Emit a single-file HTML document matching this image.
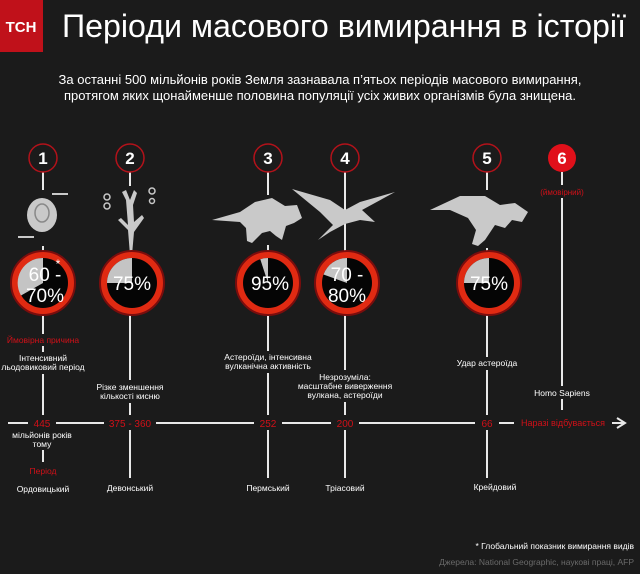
<!DOCTYPE html>
<html><head><meta charset="utf-8"><style>
html,body{margin:0;padding:0;background:#1b1b1b;}
svg{display:block;font-family:"Liberation Sans",sans-serif;}
</style></head><body>
<svg width="640" height="574" viewBox="0 0 640 574" xmlns="http://www.w3.org/2000/svg">
<rect width="640" height="574" fill="#1b1b1b"/>
<rect x="0" y="0" width="43" height="52" fill="#c0111a"/>
<text x="21" y="32" font-size="15" font-weight="bold" fill="#fff" text-anchor="middle">ТСН</text>
<text x="62" y="37" font-size="32" fill="#fff" textLength="564" lengthAdjust="spacingAndGlyphs">Періоди масового вимирання в історії</text>
<text x="320" y="84" font-size="13" fill="#fff" text-anchor="middle">За останні 500 мільйонів років Земля зазнавала п’ятьох періодів масового вимирання,</text>
<text x="320" y="100" font-size="13" fill="#fff" text-anchor="middle">протягом яких щонайменше половина популяції усіх живих організмів була знищена.</text>

<g stroke="#e8e8e8" stroke-width="2">
<line x1="43" y1="172" x2="43" y2="462"/>
<line x1="130" y1="172" x2="130" y2="478"/>
<line x1="268" y1="172" x2="268" y2="478"/>
<line x1="345" y1="172" x2="345" y2="478"/>
<line x1="487" y1="172" x2="487" y2="478"/>
<line x1="562" y1="172" x2="562" y2="410"/>
<line x1="8" y1="423" x2="625" y2="423"/>
<polyline points="617,418 625,423 617,428" fill="none"/>
</g>

<!-- background masks -->
<g fill="#1b1b1b">
<rect x="3" y="334" width="80" height="12"/>
<rect x="0" y="352" width="88" height="22"/>
<rect x="28" y="415" width="28" height="15"/>
<rect x="5" y="430" width="76" height="20"/>
<rect x="20" y="465" width="46" height="30"/>
<rect x="92" y="380" width="76" height="23"/>
<rect x="104" y="415" width="52" height="15"/>
<rect x="100" y="482" width="60" height="14"/>
<rect x="220" y="351" width="96" height="22"/>
<rect x="254" y="415" width="28" height="15"/>
<rect x="290" y="370" width="110" height="32"/>
<rect x="331" y="415" width="28" height="15"/>
<rect x="450" y="357" width="74" height="13"/>
<rect x="475" y="415" width="24" height="15"/>
<rect x="532" y="185" width="60" height="13"/>
<rect x="528" y="386" width="68" height="13"/>
<rect x="514" y="415" width="98" height="15"/>
</g>

<g font-size="17" font-weight="bold" text-anchor="middle">
<circle cx="43" cy="158" r="14" fill="#1b1b1b" stroke="#b3121a" stroke-width="1.5"/><text x="43" y="164" fill="#fff">1</text>
<circle cx="130" cy="158" r="14" fill="#1b1b1b" stroke="#b3121a" stroke-width="1.5"/><text x="130" y="164" fill="#fff">2</text>
<circle cx="268" cy="158" r="14" fill="#1b1b1b" stroke="#b3121a" stroke-width="1.5"/><text x="268" y="164" fill="#fff">3</text>
<circle cx="345" cy="158" r="14" fill="#1b1b1b" stroke="#b3121a" stroke-width="1.5"/><text x="345" y="164" fill="#fff">4</text>
<circle cx="487" cy="158" r="14" fill="#1b1b1b" stroke="#b3121a" stroke-width="1.5"/><text x="487" y="164" fill="#fff">5</text>
<circle cx="562" cy="158" r="14" fill="#e0101a"/><text x="562" y="164" fill="#fff">6</text>
</g>
<text x="562" y="195" font-size="8" fill="#d01018" text-anchor="middle">(ймовірний)</text>

<!-- icons -->
<g fill="#c9c9c9">
<rect x="30" y="190" width="28" height="56" fill="#1b1b1b"/>
<ellipse cx="42" cy="215" rx="15" ry="17"/>
<ellipse cx="42" cy="213" rx="7" ry="9" fill="none" stroke="#888" stroke-width="1.5"/>
<rect x="52" y="193" width="16" height="2"/>
<rect x="18" y="236" width="16" height="2"/>
<rect x="118" y="186" width="24" height="70" fill="#1b1b1b"/>
<path d="M130 255 L128 230 L118 220 L121 218 L128 225 L126 200 L122 192 L126 190 L130 200 L134 190 L137 193 L133 205 L134 222 L142 215 L144 218 L134 232 L132 255 Z"/>
<circle cx="107" cy="197" r="3" fill="none" stroke="#c9c9c9" stroke-width="1.5"/>
<circle cx="107" cy="206" r="3" fill="none" stroke="#c9c9c9" stroke-width="1.5"/>
<circle cx="152" cy="191" r="3" fill="none" stroke="#c9c9c9" stroke-width="1.5"/>
<circle cx="152" cy="201" r="2.5" fill="none" stroke="#c9c9c9" stroke-width="1.5"/>
<rect x="210" y="195" width="100" height="50" fill="#1b1b1b"/>
<path d="M212 220 L240 212 L255 202 L272 198 L285 206 L297 205 L302 218 L294 223 L286 226 L282 240 L276 236 L270 231 L262 233 L252 243 L247 241 L246 228 L240 222 Z"/>
<path d="M292 189 L330 200 L345 210 L360 202 L395 192 L362 210 L375 222 L360 220 L345 224 L330 232 L318 240 L333 225 L320 212 Z"/>
<rect x="460" y="190" width="72" height="58" fill="#1b1b1b"/>
<path d="M430 210 L460 196 L485 196 L500 205 L515 203 L528 212 L522 222 L512 220 L505 228 L495 225 L485 240 L478 246 L472 244 L476 230 L468 218 L450 210 Z"/>
</g>

<!-- pies -->
<g>
<g transform="translate(43,283)">
<circle r="32" fill="#e02a12" stroke="#7a0d0d" stroke-width="2"/>
<circle r="25" fill="#050505"/>
<path d="M0 0 L-22 12.5 A25 25 0 0 1 0 -25 Z" fill="#c4c4c4"/>
</g>
<g transform="translate(132,283)">
<circle r="32" fill="#e02a12" stroke="#7a0d0d" stroke-width="2"/>
<circle r="25" fill="#050505"/>
<path d="M0 0 L-25 0 A25 25 0 0 1 0 -25 Z" fill="#c4c4c4"/>
</g>
<g transform="translate(268,283)">
<circle r="32" fill="#e02a12" stroke="#7a0d0d" stroke-width="2"/>
<circle r="25" fill="#050505"/>
<path d="M0 0 L-7.7 -23.8 A25 25 0 0 1 0 -25 Z" fill="#c4c4c4"/>
</g>
<g transform="translate(347,283)">
<circle r="32" fill="#e02a12" stroke="#7a0d0d" stroke-width="2"/>
<circle r="25" fill="#050505"/>
<path d="M0 0 L-23.5 -8.5 A25 25 0 0 1 0 -25 Z" fill="#c4c4c4"/>
</g>
<g transform="translate(489,283)">
<circle r="32" fill="#e02a12" stroke="#7a0d0d" stroke-width="2"/>
<circle r="25" fill="#050505"/>
<path d="M0 0 L-25 0 A25 25 0 0 1 0 -25 Z" fill="#c4c4c4"/>
</g>
</g>
<g fill="#fff" font-size="19" text-anchor="middle">
<text x="45" y="281">60 -</text><text x="45" y="302">70%</text>
<text x="58" y="268" font-size="12">*</text>
<text x="132" y="290">75%</text>
<text x="270" y="290">95%</text>
<text x="347" y="281">70 -</text><text x="347" y="302">80%</text>
<text x="489" y="290">75%</text>
</g>

<g font-size="8.5" text-anchor="middle" fill="#fff">
<text x="43" y="343" fill="#d01018">Ймовірна причина</text>
<text x="43" y="361">Інтенсивний</text>
<text x="43" y="370">льодовиковий період</text>
<text x="130" y="390">Різке зменшення</text>
<text x="130" y="399">кількості кисню</text>
<text x="268" y="360">Астероїди, інтенсивна</text>
<text x="268" y="369">вулканічна активність</text>
<text x="345" y="380">Незрозуміла:</text>
<text x="345" y="389">масштабне виверження</text>
<text x="345" y="398">вулкана, астероїди</text>
<text x="487" y="366">Удар астероїда</text>
<text x="562" y="396">Homo Sapiens</text>

<text x="42" y="427" fill="#d01018" font-size="10">445</text>
<text x="42" y="438">мільйонів років</text>
<text x="42" y="447">тому</text>
<text x="130" y="427" fill="#d01018" font-size="10">375 - 360</text>
<text x="268" y="427" fill="#d01018" font-size="10">252</text>
<text x="345" y="427" fill="#d01018" font-size="10">200</text>
<text x="487" y="427" fill="#d01018" font-size="10">66</text>
<text x="563" y="426" fill="#d01018" font-size="9">Наразі відбувається</text>

<text x="43" y="474" fill="#d01018">Період</text>
<text x="43" y="492">Ордовицький</text>
<text x="130" y="491">Девонський</text>
<text x="268" y="491">Пермський</text>
<text x="345" y="491">Тріасовий</text>
<text x="495" y="490">Крейдовий</text>
</g>
<text x="634" y="549" font-size="8.5" fill="#fff" text-anchor="end">* Глобальний показник вимирання видів</text>
<text x="634" y="565" font-size="8.5" fill="#6a6a6a" text-anchor="end">Джерела: National Geographic, наукові праці, AFP</text>
</svg>
</body></html>
